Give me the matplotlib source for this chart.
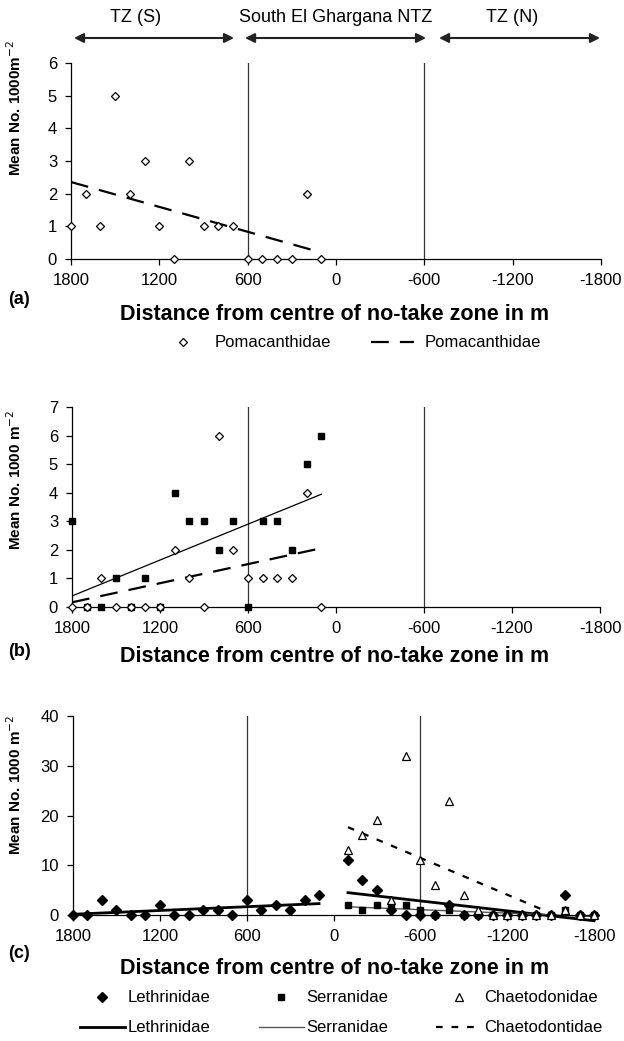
import matplotlib
matplotlib.use("Agg")
import matplotlib.pyplot as plt
from matplotlib.lines import Line2D
from matplotlib.patches import FancyArrowPatch
from matplotlib import font_manager
import numpy as np

plt.rcParams['font.family'] = ['Liberation Sans', 'DejaVu Sans']

# distances from centre of the no-take zone (m)
x_south = np.arange(1800, 0, -100)      # 1800 ... 100
x_north = np.arange(-100, -1900, -100)  # -100 ... -1800

# (a) Pomacanthidae
a_pom = [1, 2, 1, 5, 2, 3, 1, 0, 3, 1, 1, 1, 0, 0, 0, 0, 2, 0]

# (b) open diamonds / filled squares
b_open = [0, 0, 1, 0, 0, 0, 0, 2, 1, 0, 6, 2, 1, 1, 1, 1, 4, 0]
b_filled = [3, 0, 0, 1, 0, 1, 0, 4, 3, 3, 2, 3, 0, 3, 3, 2, 5, 6]

# (c)
c_leth_s = [0, 0, 3, 1, 0, 0, 2, 0, 0, 1, 1, 0, 3, 1, 2, 1, 3, 4]
c_leth_n = [11, 7, 5, 1, 0, 0, 0, 2, 0, 0, 0, 0, 0, 0, 0, 4, 0, 0]
c_serr_n = [2, 1, 2, 2, 2, 1, 0, 1, 0, 0, 0, 0, 0, 0, 0, 1, 0, 0]
c_chae_n = [13, 16, 19, 3, 32, 11, 6, 23, 4, 1, 0, 0, 0, 0, 0, 1, 0, 0]

xticks = [1800, 1200, 600, 0, -600, -1200, -1800]
zones = ['TZ (S)', 'South El Ghargana NTZ', 'TZ (N)']

# narrow font for the y titles if there is one
installed = {f.name for f in font_manager.fontManager.ttflist}
if 'Liberation Sans Narrow' in installed:
    ylab_font = dict(family=['Liberation Sans Narrow', 'DejaVu Sans'], fontsize=12.5)
else:
    ylab_font = dict(fontsize=11)

W, H = 624, 1041
fig = plt.figure(figsize=(W / 100, H / 100), dpi=100)


def rect(l, t, r, b):
    return [l / W, 1 - b / H, (r - l) / W, (b - t) / H]


def ftext(x, y, s, **kw):
    fig.text(x / W, 1 - y / H, s, **kw)


def trend(x, y):
    k, c = np.polyfit(x, y, 1)
    xx = np.array([x[0], x[-1]])
    return xx, k * xx + c


def style(ax, ymax, ystep):
    ax.set_xlim(1800, -1800)
    ax.set_ylim(0, ymax)
    ax.set_xticks(xticks)
    ax.set_xticklabels([str(v) for v in xticks])
    ax.set_yticks(np.arange(0, ymax + 1, ystep))
    for s in ['top', 'right']:
        ax.spines[s].set_visible(False)
    for s in ['left', 'bottom']:
        ax.spines[s].set_linewidth(0.9)
    ax.tick_params(direction='out', length=4, width=0.9, labelsize=12, pad=6)
    ax.axvline(600, color='#333333', lw=0.9)
    ax.axvline(-600, color='#333333', lw=0.9)


def ylab(y, s):
    ftext(15, y, s, fontweight='bold', rotation=90, ha='center', va='center', **ylab_font)


hollow = dict(ls='none', mfc='white', mec='black', mew=0.9)
xlab = 'Distance from centre of no-take zone in m'

# header arrows
arrow_y = 38
for x0, x1 in [(74, 234), (245, 426), (439, 600)]:
    fig.add_artist(FancyArrowPatch((x0 / W, 1 - arrow_y / H), (x1 / W, 1 - arrow_y / H),
                                   transform=fig.transFigure, arrowstyle='<|-|>',
                                   mutation_scale=14, color='#222222', lw=1.5,
                                   shrinkA=0, shrinkB=0))
ftext(136, 18, zones[0], ha='center', va='center', fontsize=13)
ftext(336, 18, zones[1], ha='center', va='center', fontsize=13)
ftext(512, 18, zones[2], ha='center', va='center', fontsize=13)

# ---- (a)
ax = fig.add_axes(rect(71, 63, 601, 259))
style(ax, 6, 1)
ax.plot(x_south, a_pom, marker='D', ms=4.5, **hollow, zorder=3, clip_on=False)
tx, ty = trend(x_south, a_pom)
ax.plot(tx, ty, color='black', lw=1.6, ls=(0, (8, 5)))
ftext(8, 300, '(a)', fontsize=13, fontweight='bold', va='center')
ftext(335, 314, xlab, fontsize=15.5, fontweight='bold', ha='center', va='center')
ylab(108, 'Mean No. 1000m$^{-2}$')
h = [Line2D([], [], marker='D', ms=4.5, **hollow),
     Line2D([], [], color='black', lw=1.6, ls=(0, (8, 5)))]
fig.legend(h, ['Pomacanthidae', 'Pomacanthidae'], loc='center', ncol=2,
           bbox_to_anchor=(351 / W, 1 - 343 / H), frameon=False, fontsize=12,
           handlelength=2.6, columnspacing=2.4, handletextpad=0.6)

# ---- (b)
ax = fig.add_axes(rect(72, 407, 600, 607))
style(ax, 7, 1)
ax.plot(x_south, b_filled, marker='s', ms=5, ls='none', color='black', zorder=3, clip_on=False)
ax.plot(x_south, b_open, marker='D', ms=4.5, **hollow, zorder=3, clip_on=False)
tx, ty = trend(x_south, b_filled)
ax.plot(tx, ty, color='black', lw=0.9)
tx, ty = trend(x_south, b_open)
ax.plot(tx, ty, color='black', lw=1.6, ls=(0, (8, 5)))
ftext(8, 652, '(b)', fontsize=13, fontweight='bold', va='center')
ftext(335, 657, xlab, fontsize=15.5, fontweight='bold', ha='center', va='center')
ylab(480, 'Mean No. 1000 m$^{-2}$')

# ---- (c)
ax = fig.add_axes(rect(73, 716, 594, 915))
style(ax, 40, 10)
ax.plot(x_south, c_leth_s, marker='D', ms=5, ls='none', color='black', zorder=3, clip_on=False)
ax.plot(x_north, c_leth_n, marker='D', ms=5, ls='none', color='black', zorder=3, clip_on=False)
ax.plot(x_north, c_serr_n, marker='s', ms=5, ls='none', color='black', zorder=3, clip_on=False)
ax.plot(x_north, c_chae_n, marker='^', ms=6, **hollow, zorder=4, clip_on=False)
tx, ty = trend(x_south, c_leth_s)
ax.plot(tx, ty, color='black', lw=2)
tx, ty = trend(x_north, c_leth_n)
ax.plot(tx, ty, color='black', lw=2, clip_on=False)
tx, ty = trend(x_north, c_serr_n)
ax.plot(tx, ty, color='#555555', lw=1, clip_on=False)
tx, ty = trend(x_north, c_chae_n)
ax.plot(tx, ty, color='black', lw=1.6, ls=(0, (3, 4)))
ftext(8, 953, '(c)', fontsize=13, fontweight='bold', va='center')
ftext(335, 968, xlab, fontsize=15.5, fontweight='bold', ha='center', va='center')
ylab(785, 'Mean No. 1000 m$^{-2}$')
h = [Line2D([], [], marker='D', ms=5, ls='none', color='black'),
     Line2D([], [], color='black', lw=2),
     Line2D([], [], marker='s', ms=5, ls='none', color='black'),
     Line2D([], [], color='#555555', lw=1),
     Line2D([], [], marker='^', ms=6, **hollow),
     Line2D([], [], color='black', lw=1.6, ls=(0, (3, 4)))]
labels = ['Lethrinidae', 'Lethrinidae', 'Serranidae', 'Serranidae',
          'Chaetodonidae', 'Chaetodontidae']
fig.legend(h, labels, loc='center', ncol=3, bbox_to_anchor=(341 / W, 1 - 1013 / H),
           frameon=False, fontsize=12, handlelength=2.7, columnspacing=2.9,
           handletextpad=0.15, labelspacing=0.9)

fig.savefig('out.png', dpi=100)
